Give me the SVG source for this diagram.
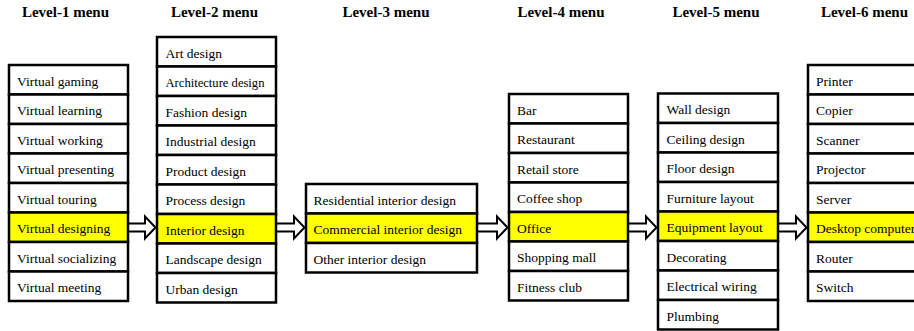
<svg xmlns="http://www.w3.org/2000/svg" width="914" height="331" viewBox="0 0 914 331">
<style>
.hd{font-family:"Liberation Serif","Times New Roman",serif;font-weight:bold;font-size:15px;fill:#000;text-anchor:middle}
.bx{fill:#fff;stroke:#000;stroke-width:2.5}
.hl{fill:#ffff00;stroke:#000;stroke-width:2.5}
.tx{font-family:"Liberation Serif","Times New Roman",serif;font-size:13.5px;fill:#000}
.ar{fill:#fff;stroke:#000;stroke-width:2;stroke-linejoin:miter}
</style>
<rect width="914" height="331" fill="#fff"/>
<g id="headers">
<text class="hd" x="65.5" y="17">Level-1 menu</text>
<text class="hd" x="214.5" y="17">Level-2 menu</text>
<text class="hd" x="386" y="17">Level-3 menu</text>
<text class="hd" x="561" y="17">Level-4 menu</text>
<text class="hd" x="716" y="17">Level-5 menu</text>
<text class="hd" x="864.5" y="17">Level-6 menu</text>
</g>
<g id="connectors">
<polygon class="ar" points="128,223.5 145,223.5 145,216.5 155.5,227.5 145,238.5 145,231.5 128,231.5"/>
<polygon class="ar" points="276,223.5 294,223.5 294,216.5 304.5,227.5 294,238.5 294,231.5 276,231.5"/>
<polygon class="ar" points="477,223.5 497,223.5 497,216.5 507.5,227.5 497,238.5 497,231.5 477,231.5"/>
<polygon class="ar" points="628,223.5 646,223.5 646,216.5 656.5,227.5 646,238.5 646,231.5 628,231.5"/>
<polygon class="ar" points="778,223.5 796,223.5 796,216.5 806.5,227.5 796,238.5 796,231.5 778,231.5"/>
</g>
<g id="level1">
<g id="l1-gaming"><rect class="bx" x="9" y="65" width="119" height="29.5"/><text class="tx" x="17" y="85.5">Virtual gaming</text></g>
<g id="l1-learning"><rect class="bx" x="9" y="94.5" width="119" height="29.5"/><text class="tx" x="17" y="115">Virtual learning</text></g>
<g id="l1-working"><rect class="bx" x="9" y="124" width="119" height="29.5"/><text class="tx" x="17" y="144.5">Virtual working</text></g>
<g id="l1-presenting"><rect class="bx" x="9" y="153.5" width="119" height="29.5"/><text class="tx" x="17" y="174">Virtual presenting</text></g>
<g id="l1-touring"><rect class="bx" x="9" y="183" width="119" height="29.5"/><text class="tx" x="17" y="203.5">Virtual touring</text></g>
<g id="l1-designing"><rect class="hl" x="9" y="212.5" width="119" height="29.5"/><text class="tx" x="17" y="233">Virtual designing</text></g>
<g id="l1-socializing"><rect class="bx" x="9" y="242" width="119" height="29.5"/><text class="tx" x="17" y="262.5">Virtual socializing</text></g>
<g id="l1-meeting"><rect class="bx" x="9" y="271.5" width="119" height="29.5"/><text class="tx" x="17" y="292">Virtual meeting</text></g>
</g>
<g id="level2">
<g id="l2-art"><rect class="bx" x="157" y="37" width="119" height="29.5"/><text class="tx" x="165.5" y="57.5">Art design</text></g>
<g id="l2-architecture"><rect class="bx" x="157" y="66.5" width="119" height="29.5"/><text class="tx" x="165.5" y="87" style="font-size:12.6px">Architecture design</text></g>
<g id="l2-fashion"><rect class="bx" x="157" y="96" width="119" height="29.5"/><text class="tx" x="165.5" y="116.5">Fashion design</text></g>
<g id="l2-industrial"><rect class="bx" x="157" y="125.5" width="119" height="29.5"/><text class="tx" x="165.5" y="146">Industrial design</text></g>
<g id="l2-product"><rect class="bx" x="157" y="155" width="119" height="29.5"/><text class="tx" x="165.5" y="175.5">Product design</text></g>
<g id="l2-process"><rect class="bx" x="157" y="184.5" width="119" height="29.5"/><text class="tx" x="165.5" y="205">Process design</text></g>
<g id="l2-interior"><rect class="hl" x="157" y="214" width="119" height="29.5"/><text class="tx" x="165.5" y="234.5">Interior design</text></g>
<g id="l2-landscape"><rect class="bx" x="157" y="243.5" width="119" height="29.5"/><text class="tx" x="165.5" y="264">Landscape design</text></g>
<g id="l2-urban"><rect class="bx" x="157" y="273" width="119" height="29.5"/><text class="tx" x="165.5" y="293.5">Urban design</text></g>
</g>
<g id="level3">
<g id="l3-residential"><rect class="bx" x="306" y="184" width="171" height="29.5"/><text class="tx" x="313.5" y="204.5">Residential interior design</text></g>
<g id="l3-commercial"><rect class="hl" x="306" y="213.5" width="171" height="29.5"/><text class="tx" x="313.5" y="234">Commercial interior design</text></g>
<g id="l3-other"><rect class="bx" x="306" y="243" width="171" height="29.5"/><text class="tx" x="313.5" y="263.5">Other interior design</text></g>
</g>
<g id="level4">
<g id="l4-bar"><rect class="bx" x="509" y="94" width="119" height="29.5"/><text class="tx" x="517" y="114.5">Bar</text></g>
<g id="l4-restaurant"><rect class="bx" x="509" y="123.5" width="119" height="29.5"/><text class="tx" x="517" y="144">Restaurant</text></g>
<g id="l4-retail"><rect class="bx" x="509" y="153" width="119" height="29.5"/><text class="tx" x="517" y="173.5">Retail store</text></g>
<g id="l4-coffee"><rect class="bx" x="509" y="182.5" width="119" height="29.5"/><text class="tx" x="517" y="203">Coffee shop</text></g>
<g id="l4-office"><rect class="hl" x="509" y="212" width="119" height="29.5"/><text class="tx" x="517" y="232.5">Office</text></g>
<g id="l4-mall"><rect class="bx" x="509" y="241.5" width="119" height="29.5"/><text class="tx" x="517" y="262">Shopping mall</text></g>
<g id="l4-fitness"><rect class="bx" x="509" y="271" width="119" height="29.5"/><text class="tx" x="517" y="291.5">Fitness club</text></g>
</g>
<g id="level5">
<g id="l5-wall"><rect class="bx" x="658" y="93.5" width="120" height="29.5"/><text class="tx" x="666.5" y="114">Wall design</text></g>
<g id="l5-ceiling"><rect class="bx" x="658" y="123" width="120" height="29.5"/><text class="tx" x="666.5" y="143.5">Ceiling design</text></g>
<g id="l5-floor"><rect class="bx" x="658" y="152.5" width="120" height="29.5"/><text class="tx" x="666.5" y="173">Floor design</text></g>
<g id="l5-furniture"><rect class="bx" x="658" y="182" width="120" height="29.5"/><text class="tx" x="666.5" y="202.5">Furniture layout</text></g>
<g id="l5-equipment"><rect class="hl" x="658" y="211.5" width="120" height="29.5"/><text class="tx" x="666.5" y="232">Equipment layout</text></g>
<g id="l5-decorating"><rect class="bx" x="658" y="241" width="120" height="29.5"/><text class="tx" x="666.5" y="261.5">Decorating</text></g>
<g id="l5-electrical"><rect class="bx" x="658" y="270.5" width="120" height="29.5"/><text class="tx" x="666.5" y="291">Electrical wiring</text></g>
<g id="l5-plumbing"><rect class="bx" x="658" y="300" width="120" height="29.5"/><text class="tx" x="666.5" y="320.5">Plumbing</text></g>
</g>
<g id="level6">
<g id="l6-printer"><rect class="bx" x="808" y="65" width="120" height="29.5"/><text class="tx" x="816" y="85.5">Printer</text></g>
<g id="l6-copier"><rect class="bx" x="808" y="94.5" width="120" height="29.5"/><text class="tx" x="816" y="115">Copier</text></g>
<g id="l6-scanner"><rect class="bx" x="808" y="124" width="120" height="29.5"/><text class="tx" x="816" y="144.5">Scanner</text></g>
<g id="l6-projector"><rect class="bx" x="808" y="153.5" width="120" height="29.5"/><text class="tx" x="816" y="174">Projector</text></g>
<g id="l6-server"><rect class="bx" x="808" y="183" width="120" height="29.5"/><text class="tx" x="816" y="203.5">Server</text></g>
<g id="l6-desktop"><rect class="hl" x="808" y="212.5" width="120" height="29.5"/><text class="tx" x="816" y="233">Desktop computer</text></g>
<g id="l6-router"><rect class="bx" x="808" y="242" width="120" height="29.5"/><text class="tx" x="816" y="262.5">Router</text></g>
<g id="l6-switch"><rect class="bx" x="808" y="271.5" width="120" height="29.5"/><text class="tx" x="816" y="292">Switch</text></g>
</g>
</svg>
